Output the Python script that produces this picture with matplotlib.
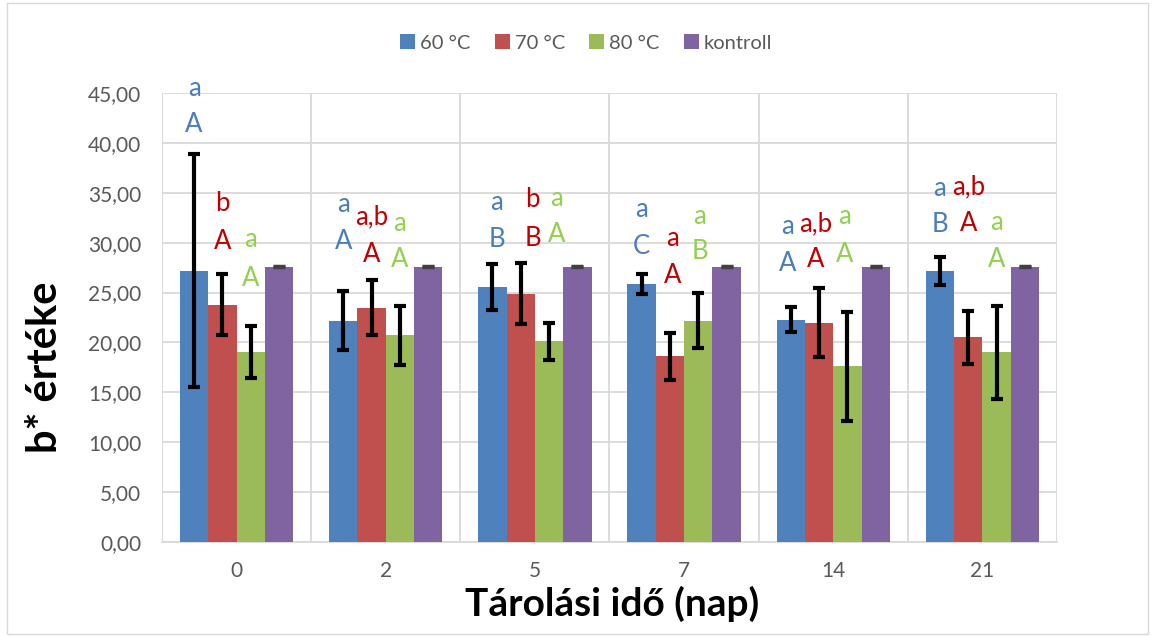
import numpy as np
import matplotlib
matplotlib.use('Agg')
import matplotlib.pyplot as plt
from matplotlib.patches import Rectangle

plt.rcParams['font.family'] = ['Lato', 'DejaVu Sans']

# adatok
napok = ['0', '2', '5', '7', '14', '21']
series_names = ['60 °C', '70 °C', '80 °C', 'kontroll']
b60 = [27.2, 22.2, 25.6, 25.9, 22.3, 27.2]
b60_err = [11.7, 3.0, 2.3, 1.0, 1.3, 1.4]
b70 = [23.8, 23.5, 24.9, 18.6, 22.0, 20.5]
b70_err = [3.1, 2.75, 3.1, 2.35, 3.5, 2.65]
b80 = [19.0, 20.7, 20.1, 22.2, 17.6, 19.0]
b80_err = [2.6, 3.0, 1.9, 2.8, 5.45, 4.7]
kontroll = [27.6, 27.6, 27.6, 27.6, 27.6, 27.6]
kontroll_err = [0.05, 0.05, 0.05, 0.05, 0.05, 0.05]

# szignifikancia betűk (kisbetű: felső sor, nagybetű: alsó sor)
lower_60 = ['a', 'a', 'a', 'a', 'a', 'a']
upper_60 = ['A', 'A', 'B', 'C', 'A', 'B']
lower_70 = ['b', 'a,b', 'b', 'a', 'a,b', 'a,b']
upper_70 = ['A', 'A', 'B', 'A', 'A', 'A']
lower_80 = ['a', 'a', 'a', 'a', 'a', 'a']
upper_80 = ['A', 'A', 'A', 'B', 'A', 'A']

# betűk elhelyezése (y, adategységben) és vízszintes eltolás
lower_60_y = [45.5, 33.8, 34.0, 33.3, 31.6, 35.4]
upper_60_y = [41.8, 30.1, 30.3, 29.6, 27.9, 31.8]
lower_70_y = [33.9, 32.6, 34.3, 30.4, 31.9, 35.6]
upper_70_y = [30.1, 28.8, 30.4, 26.7, 28.3, 31.9]
lower_80_y = [30.3, 31.9, 34.4, 32.6, 32.6, 32.0]
upper_80_y = [26.4, 28.3, 30.8, 29.1, 28.8, 28.3]
label_dx = [[0, 0, 0], [0, 0, 0], [0.03, 0.08, 0.05], [0, 0.02, 0.01],
            [-0.02, -0.02, -0.02], [0, 0, 0]]

bar_colors = ['#4F81BD', '#C0504D', '#9BBB59', '#8064A2']
text_colors = ['#4A7EBB', '#C00000', '#92D050']

fig = plt.figure(figsize=(11.53, 6.37), dpi=100)
ax = fig.add_axes([0.1405, 0.1491, 0.7762, 0.7049])

x = np.arange(len(napok))
w = 0.19
values = [b60, b70, b80, kontroll]
errors = [b60_err, b70_err, b80_err, kontroll_err]

for j, (vals, errs) in enumerate(zip(values, errors)):
    pos = x + (j - 1.5) * w
    ax.bar(pos, vals, width=w, color=bar_colors[j], label=series_names[j], zorder=3)
    if j < 3:
        ax.errorbar(pos, vals, yerr=errs, fmt='none', ecolor='black',
                    elinewidth=3, capsize=4.5, capthick=3, zorder=4)
    else:
        ax.errorbar(pos, vals, yerr=errs, fmt='none', ecolor='#404040',
                    elinewidth=2, capsize=4.5, capthick=2.5, zorder=4)

lowers = [lower_60, lower_70, lower_80]
uppers = [upper_60, upper_70, upper_80]
lowers_y = [lower_60_y, lower_70_y, lower_80_y]
uppers_y = [upper_60_y, upper_70_y, upper_80_y]
for j in range(3):
    for i in range(len(napok)):
        px = x[i] + (j - 1.5) * w + label_dx[i][j]
        ax.text(px, lowers_y[j][i], lowers[j][i], color=text_colors[j],
                fontsize=18.5, ha='center', va='center', clip_on=False, zorder=5)
        ax.text(px, uppers_y[j][i], uppers[j][i], color=text_colors[j],
                fontsize=18.5, ha='center', va='center', clip_on=False, zorder=5)

ax.set_xlim(-0.5, len(napok) - 0.5)
ax.set_ylim(0, 45)
ax.set_yticks(np.arange(0, 46, 5))
ax.set_yticklabels([f'{v:.2f}'.replace('.', ',') for v in np.arange(0, 46, 5)])
ax.set_xticks(x)
ax.set_xticklabels(napok)
ax.set_xticks(np.arange(-0.5, len(napok), 1), minor=True)

ax.grid(axis='y', color='#D9D9D9', linewidth=1.3, zorder=0)
ax.grid(axis='x', which='minor', color='#D9D9D9', linewidth=1.3, zorder=0)
ax.tick_params(axis='both', which='both', length=0, labelsize=15, colors='#595959')
ax.tick_params(axis='y', pad=15)
ax.tick_params(axis='x', pad=14)
for s in ['left', 'right', 'top']:
    ax.spines[s].set_visible(False)
ax.spines['bottom'].set_color('#D9D9D9')
ax.spines['bottom'].set_linewidth(1.3)

fig.text(0.039, 0.424, 'b* értéke', rotation=90, fontsize=30, fontweight='bold',
         ha='center', va='center')
fig.text(0.531, 0.052, 'Tárolási idő (nap)', fontsize=28, fontweight='bold',
         ha='center', va='center')

ax.legend(loc='center', bbox_to_anchor=(0.474, 1.111), ncol=4, frameon=False,
          fontsize=14.5, handlelength=0.75, handleheight=0.75, handletextpad=0.25,
          columnspacing=1.2, labelcolor='#595959')

fig.patches.append(Rectangle((0.006, 0.004), 0.99, 0.992, transform=fig.transFigure,
                             fill=False, edgecolor='#D9D9D9', linewidth=1))

fig.savefig('out.png', dpi=100)
